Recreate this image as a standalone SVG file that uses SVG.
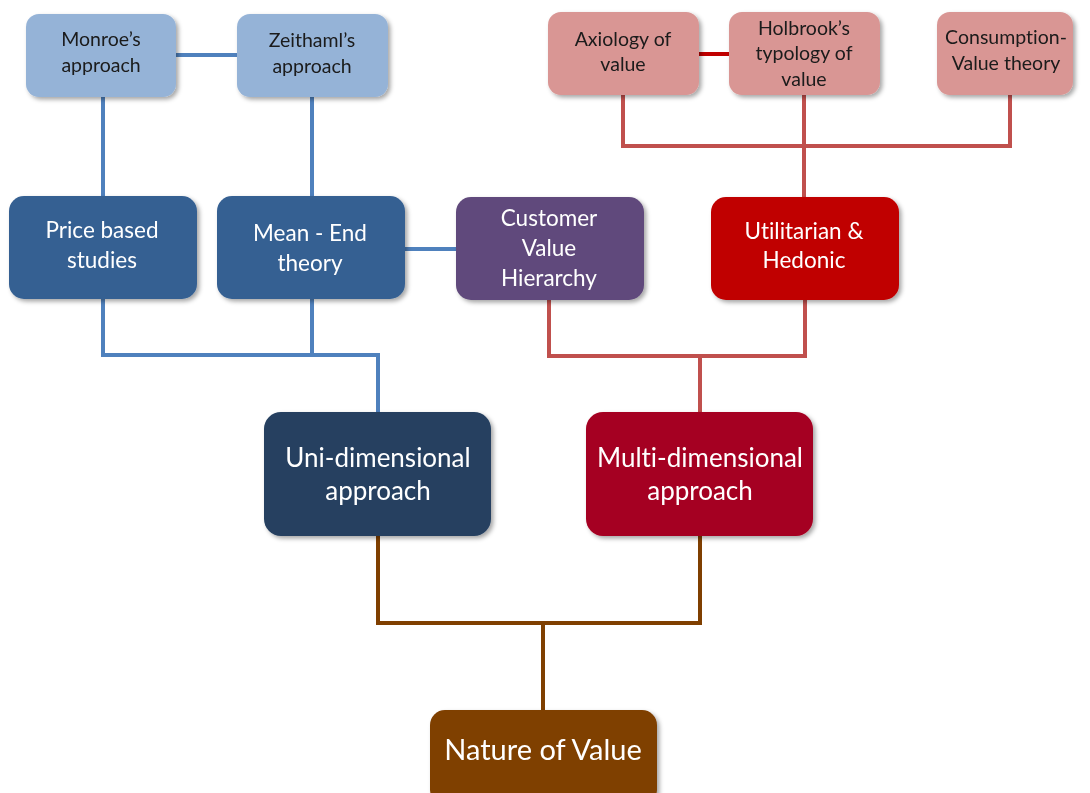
<svg xmlns="http://www.w3.org/2000/svg" width="1090" height="793" viewBox="0 0 1090 793">
  <defs>
    <filter id="shadow" x="-10%" y="-10%" width="125%" height="130%">
      <feDropShadow dx="2.5" dy="2.5" stdDeviation="2" flood-color="#000" flood-opacity="0.35"/>
    </filter>
    <style>
      .node { filter: url(#shadow); }
      .t { font-family: Lato, "Open Sans", "Liberation Sans", sans-serif; text-anchor: middle; font-variant-ligatures: none; }
      .sm { font-size: 19.5px; fill: #1a1a1a; }
      .md { font-size: 22.5px; fill: #ffffff; }
      .lg { font-size: 26px; fill: #ffffff; }
      .xl { font-size: 29px; fill: #ffffff; }
      .blue { stroke: #4f81bd; stroke-width: 4; fill: none; }
      .red { stroke: #c0504d; stroke-width: 4; fill: none; }
      .dred { stroke: #c00000; stroke-width: 4; fill: none; }
      .brown { stroke: #7f3f00; stroke-width: 4; fill: none; }
    </style>
  </defs>
  <rect width="1090" height="793" fill="#ffffff"/>

  <!-- connectors -->
  <g id="connectors">
    <line class="blue" x1="176" y1="55" x2="237" y2="55"/>
    <line class="blue" x1="103" y1="97" x2="103" y2="197"/>
    <line class="blue" x1="312" y1="97" x2="312" y2="197"/>
    <line class="blue" x1="405" y1="249" x2="456" y2="249"/>
    <polyline class="blue" points="103,299 103,355 378,355 378,412"/>
    <line class="blue" x1="312" y1="299" x2="312" y2="355"/>

    <line class="dred" x1="699" y1="54" x2="729" y2="54"/>
    <polyline class="red" points="623,95 623,146 1010,146 1010,95"/>
    <line class="red" x1="804" y1="95" x2="804" y2="197"/>
    <polyline class="red" points="549,300 549,356 805,356 805,300"/>
    <line class="red" x1="700" y1="356" x2="700" y2="412"/>

    <polyline class="brown" points="378,536 378,623 700,623 700,536"/>
    <line class="brown" x1="543" y1="623" x2="543" y2="710"/>
  </g>

  <!-- top row, blue family -->
  <g id="monroe" class="node">
    <rect x="26" y="14" width="150" height="83" rx="13" fill="#95b3d7"/>
    <text class="t sm" x="101" y="46">Monroe’s</text>
    <text class="t sm" x="101" y="72">approach</text>
  </g>
  <g id="zeithaml" class="node">
    <rect x="237" y="14" width="151" height="83" rx="13" fill="#95b3d7"/>
    <text class="t sm" x="312" y="47">Zeithaml’s</text>
    <text class="t sm" x="312" y="73">approach</text>
  </g>

  <!-- top row, red family -->
  <g id="axiology" class="node">
    <rect x="548" y="12" width="151" height="83" rx="13" fill="#d99694"/>
    <text class="t sm" x="623" y="46">Axiology of</text>
    <text class="t sm" x="623" y="71">value</text>
  </g>
  <g id="holbrook" class="node">
    <rect x="729" y="12" width="151" height="83" rx="13" fill="#d99694"/>
    <text class="t sm" x="804" y="35">Holbrook’s</text>
    <text class="t sm" x="804" y="60">typology of</text>
    <text class="t sm" x="804" y="86">value</text>
  </g>
  <g id="consumption" class="node">
    <rect x="937" y="12" width="136" height="83" rx="13" fill="#d99694"/>
    <text class="t sm" x="1006" y="44">Consumption-</text>
    <text class="t sm" x="1006" y="70">Value theory</text>
  </g>

  <!-- second row -->
  <g id="price" class="node">
    <rect x="9" y="196" width="188" height="103" rx="15" fill="#366092"/>
    <text class="t md" x="102" y="238">Price based</text>
    <text class="t md" x="102" y="268">studies</text>
  </g>
  <g id="meanend" class="node">
    <rect x="217" y="196" width="188" height="103" rx="15" fill="#366092"/>
    <text class="t md" x="310" y="241">Mean - End</text>
    <text class="t md" x="310" y="271">theory</text>
  </g>
  <g id="customer" class="node">
    <rect x="456" y="197" width="188" height="103" rx="15" fill="#604a7b"/>
    <text class="t md" x="549" y="226">Customer</text>
    <text class="t md" x="549" y="256">Value</text>
    <text class="t md" x="549" y="286">Hierarchy</text>
  </g>
  <g id="utilitarian" class="node">
    <rect x="711" y="197" width="188" height="103" rx="15" fill="#c00000"/>
    <text class="t md" x="804" y="239">Utilitarian &amp;</text>
    <text class="t md" x="804" y="268">Hedonic</text>
  </g>

  <!-- third row -->
  <g id="uni" class="node">
    <rect x="264" y="412" width="227" height="124" rx="17" fill="#254061"/>
    <text class="t lg" x="378" y="467">Uni-dimensional</text>
    <text class="t lg" x="378" y="500">approach</text>
  </g>
  <g id="multi" class="node">
    <rect x="586" y="412" width="227" height="124" rx="17" fill="#a50021"/>
    <text class="t lg" x="700" y="467">Multi-dimensional</text>
    <text class="t lg" x="700" y="500">approach</text>
  </g>

  <!-- root -->
  <g id="nature" class="node">
    <rect x="430" y="710" width="227" height="95" rx="15" fill="#7f3f00"/>
    <text class="t xl" x="543" y="760">Nature of Value</text>
  </g>
</svg>
